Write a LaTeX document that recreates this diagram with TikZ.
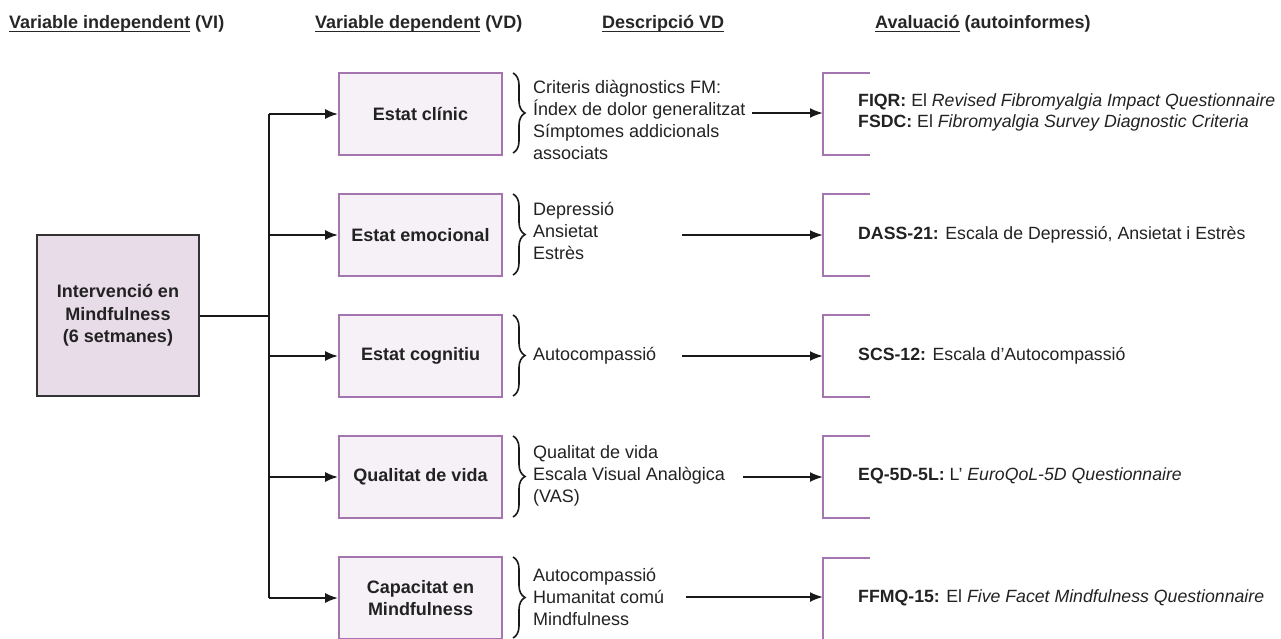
\documentclass[tikz,border=0pt]{standalone}
\usepackage{fontspec}
\setmainfont{Liberation Sans}
\usetikzlibrary{arrows.meta,decorations.pathreplacing}
\definecolor{txt}{HTML}{222222}
\definecolor{vdborder}{HTML}{A475AE}
\definecolor{vdfill}{HTML}{F5F1F6}
\definecolor{vifill}{HTML}{E8DCE9}
\definecolor{viborder}{HTML}{333333}
\newsavebox\ulbox
\newcommand\myul[1]{\sbox\ulbox{#1}\rlap{\rule[-4pt]{\wd\ulbox}{1.5pt}}\usebox\ulbox}
\begin{document}
\begin{tikzpicture}[x=1pt,y=-1pt,text=txt,
  vibox/.style={draw=viborder, fill=vifill, line width=1.8pt, minimum width=162pt, minimum height=161pt, align=center, inner sep=0pt, font=\fontsize{18}{22.5}\selectfont\bfseries},
  vdbox/.style={draw=vdborder, fill=vdfill, line width=1.8pt, minimum width=163pt, minimum height=82pt, align=center, inner sep=0pt, font=\fontsize{18}{22}\selectfont\bfseries},
  desc/.style={anchor=west, align=left, inner sep=0pt, font=\fontsize{18}{22}\selectfont},
  evtext/.style={anchor=west, align=left, inner sep=0pt, font=\fontsize{17.7}{21}\selectfont},
  hdr/.style={anchor=base west, inner sep=0pt, text=black!85, font=\fontsize{18}{22}\selectfont\bfseries},
  conn/.style={draw=black!90, line width=2pt},
  arr/.style={conn, -{Latex[length=13pt,width=10pt]}},
  evbr/.style={draw=vdborder, line width=2pt},
  vdbrace/.style={draw=black!90, line width=1.6pt, decorate, decoration={brace, amplitude=12pt}}
]
\useasboundingbox (0,0) rectangle (1281,638);

% headers
\node[hdr] (h1) at (9,28) {\myul{Variable independent} (VI)};
\node[hdr] (h2) at (315,28) {\myul{Variable dependent} (VD)};
\node[hdr] (h3) at (602,28) {\myul{Descripció VD}};
\node[hdr] (h4) at (875,28) {\myul{Avaluació} (autoinformes)};

% main box
\node[vibox] (vi) at (118,315.5) {Intervenció en\\Mindfulness\\(6 setmanes)};

% VD boxes
\node[vdbox] (vd1) at (420.5,114) {Estat clínic};
\node[vdbox] (vd2) at (420.5,235) {Estat emocional};
\node[vdbox] (vd3) at (420.5,356) {Estat cognitiu};
\node[vdbox] (vd4) at (420.5,477) {Qualitat de vida};
\node[vdbox] (vd5) at (420.5,598) {Capacitat en\\Mindfulness};

% trunk
\coordinate (tm) at (269,315.5);
\coordinate (t1) at (269,114);
\coordinate (t2) at (269,235);
\coordinate (t3) at (269,356);
\coordinate (t4) at (269,477);
\coordinate (t5) at (269,598);
\draw[conn] (vi.east) -- (tm);
\draw[conn] (t1) -- (t5);
\draw[arr] (t1) -- (vd1.west);
\draw[arr] (t2) -- (vd2.west);
\draw[arr] (t3) -- (vd3.west);
\draw[arr] (t4) -- (vd4.west);
\draw[arr] (t5) -- (vd5.west);

% braces
\draw[vdbrace] (513,73) -- (513,153);
\draw[vdbrace] (513,194) -- (513,275);
\draw[vdbrace] (513,315) -- (513,396);
\draw[vdbrace] (513,436) -- (513,517);
\draw[vdbrace] (513,557) -- (513,638);

% descriptions
\node[desc] (d1) at (533,120) {Criteris diàgnostics FM:\\Índex de dolor generalitzat\\Símptomes addicionals\\associats};
\node[desc] (d2) at (533,231) {Depressió\\Ansietat\\Estrès};
\node[desc] (d3) at (533,356) {Autocompassió};
\node[desc] (d4) at (533,476) {Qualitat de vida\\Escala Visual Analògica\\(VAS)};
\node[desc] (d5) at (533,597) {Autocompassió\\Humanitat comú\\Mindfulness};

% arrows to evaluation
\coordinate (s1) at (752,113); \coordinate (e1) at (823,113);
\coordinate (s2) at (682,235); \coordinate (e2) at (823,235);
\coordinate (s3) at (682,356); \coordinate (e3) at (823,356);
\coordinate (s4) at (743,477); \coordinate (e4) at (823,477);
\coordinate (s5) at (686,597); \coordinate (e5) at (823,597);
\draw[arr] (s1) -- (e1);
\draw[arr] (s2) -- (e2);
\draw[arr] (s3) -- (e3);
\draw[arr] (s4) -- (e4);
\draw[arr] (s5) -- (e5);

% evaluation brackets
\draw[evbr] (870,73) -- (823,73) -- (823,155) -- (870,155);
\draw[evbr] (870,194) -- (823,194) -- (823,276) -- (870,276);
\draw[evbr] (870,315) -- (823,315) -- (823,397) -- (870,397);
\draw[evbr] (870,436) -- (823,436) -- (823,518) -- (870,518);
\draw[evbr] (870,558) -- (823,558) -- (823,640) -- (870,640);

% evaluation texts
\node[evtext] (a1) at (858,112.5) {\textbf{FIQR:} El \textit{Revised Fibromyalgia Impact Questionnaire}\\\textbf{FSDC:} El \textit{Fibromyalgia Survey Diagnostic Criteria}};
\node[evtext] (a2) at (858,235) {\textbf{DASS-21:} Escala de Depressió, Ansietat i Estrès};
\node[evtext] (a3) at (858,356) {\textbf{SCS-12:} Escala d'Autocompassió};
\node[evtext] (a4) at (858,476) {\textbf{EQ-5D-5L:} L' \textit{EuroQoL-5D Questionnaire}};
\node[evtext] (a5) at (858,598) {\textbf{FFMQ-15:} El \textit{Five Facet Mindfulness Questionnaire}};
\end{tikzpicture}
\end{document}
